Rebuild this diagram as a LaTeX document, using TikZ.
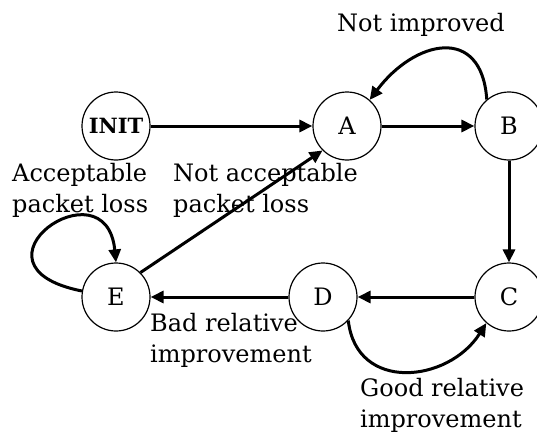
\documentclass[tikz,border=0pt]{standalone}
\usepackage{fontspec}
\setmainfont{DejaVu Serif}
\usetikzlibrary{arrows.meta}
\begin{document}
\begin{tikzpicture}[x=1pt,y=1pt,
  state/.style={circle,draw,line width=1.2pt,minimum size=68pt,inner sep=0pt,
    font=\fontsize{24}{28}\selectfont},
  arr/.style={line width=3pt,-{Triangle[length=13pt,width=12pt]}},
  lbl/.style={font=\fontsize{24}{30.5}\selectfont,align=left,inner sep=0pt,anchor=base west}]
\useasboundingbox (0,0) rectangle (537,432);
% states
\node[state] (INIT) at (116,306) {\fontsize{21}{24}\selectfont\bfseries INIT};
\node[state] (A) at (347,306) {A};
\node[state] (B) at (509,306) {B};
\node[state] (C) at (509,135) {C};
\node[state] (D) at (323,135) {D};
\node[state] (E) at (116,135) {E};
% connectors
\draw[arr] (INIT) -- (A);
\draw[arr] (A) -- (B);
\draw[arr] (B) -- (C);
\draw[arr] (C) -- (D);
\draw[arr] (D) -- (E);
\draw[arr] (E.45) -- (A.225);
\draw[arr] (B.130) .. controls +(-5,75) and +(45,60) .. (A.49);
\draw[arr] (D.-43) .. controls +(8,-72) and +(-38,-60) .. (C.-131);
\draw[arr] (E.170) .. controls +(-126,25) and +(-10,102) .. (E.90);
% labels
\node[lbl,anchor=base] (l1) at (421,400) {Not improved};
\node[lbl] (l2) at (12,220) {Acceptable\\packet loss};
\node[lbl] (l3) at (173,220) {Not acceptable\\packet loss};
\node[lbl] (l4) at (150,70) {Bad relative\\improvement};
\node[lbl] (l5) at (360,5) {Good relative\\improvement};
\end{tikzpicture}
\end{document}
